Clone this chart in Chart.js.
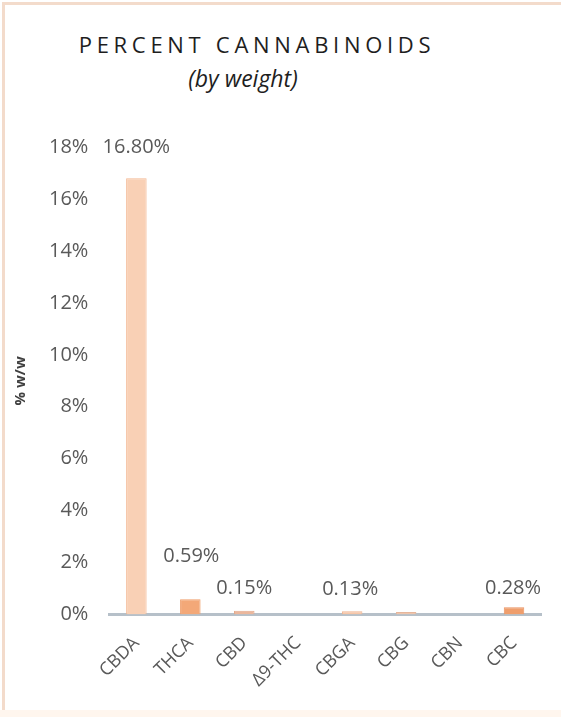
<!DOCTYPE html>
<html>
<head>
<meta charset="utf-8">
<script src="https://cdn.jsdelivr.net/npm/chart.js@4/dist/chart.umd.min.js"></script>
<style>
  html, body { margin: 0; padding: 0; background: #ffffff; }
  #wrap { position: relative; width: 561px; height: 717px; overflow: hidden; background: #fff; }
  #frame { position: absolute; left: 2px; top: 2px; right: 0; bottom: 7px;
           border-top: 3px solid #f3dbcb; border-left: 3px solid #f3dbcb; }
  #bottomband { position: absolute; left: 0; right: 0; bottom: 0; height: 7px; background: #fff6ee; }
  #title { position: absolute; left: 0; width: 514px; top: 29px; text-align: center;
           font-family: "Open Sans", sans-serif; font-size: 22px; letter-spacing: 4.7px; color: #1e1e1e; }
  #subtitle { position: absolute; left: 0; width: 486px; top: 62px; text-align: center;
           font-family: "Open Sans", sans-serif; font-style: italic; font-size: 23px; color: #1e1e1e; }
  canvas { position: absolute; left: 0; top: 0; }
</style>
</head>
<body>
<div id="wrap">
  <div id="frame"></div>
  <div id="bottomband"></div>
  <div id="title">PERCENT CANNABINOIDS</div>
  <div id="subtitle">(by weight)</div>
  <canvas id="c" width="561" height="717"></canvas>
</div>
<script>
// ---- data ----
const categories = ["CBDA", "THCA", "CBD", "\u03949-THC", "CBGA", "CBG", "CBN", "CBC"];
const values = [16.8, 0.59, 0.15, 0, 0.13, 0.1, 0, 0.28];
const valueLabels = ["16.80%", "0.59%", "0.15%", null, "0.13%", null, null, "0.28%"];
const yTicksMax = 18;
const yTicksStep = 2;
const yAxisTitle = "% w/w";

// ---- style ----
const barColors = ["#f9d0b5", "#f3a878", "#ebb79c", "#f6c4a4", "#f6c6a8", "#eec5ad", "#f6c4a4", "#ef9e6c"];
const barBorders = ["#f4b893", "#ef9e6b", "#e3a88a", "#f0b28e", "#f0b490", "#e6b69b", "#f0b28e", "#ea9260"];
const labelOffsetY = [31, 43, 22, 0, 22, 0, 0, 19];
const labelOffsetX = [0, 1, 0, 0, -2, 0, 0, -1];

const dataLabels = {
  id: 'dataLabels',
  afterDatasetsDraw(chart) {
    const ctx = chart.ctx;
    const meta = chart.getDatasetMeta(0);
    ctx.save();
    ctx.font = '20px "Open Sans", sans-serif';
    ctx.fillStyle = '#595959';
    ctx.textAlign = 'center';
    ctx.textBaseline = 'middle';
    meta.data.forEach((bar, i) => {
      const t = valueLabels[i];
      if (!t) return;
      ctx.fillText(t, bar.x + labelOffsetX[i], bar.y - labelOffsetY[i]);
    });
    ctx.restore();
  }
};

new Chart(document.getElementById('c'), {
  type: 'bar',
  data: {
    labels: categories,
    datasets: [{
      data: values,
      backgroundColor: barColors,
      borderColor: barBorders,
      borderWidth: 1,
      barPercentage: 0.38,
      categoryPercentage: 1.0
    }]
  },
  options: {
    responsive: false,
    animation: false,
    layout: { padding: { left: 12, right: 20, top: 147, bottom: 8 } },
    plugins: { legend: { display: false }, tooltip: { enabled: false }, title: { display: false } },
    scales: {
      x: {
        grid: { display: false, drawTicks: false },
        border: { display: true, color: '#b6c0c9', width: 3 },
        ticks: {
          color: '#595959',
          font: { family: '"Open Sans", sans-serif', size: 18 },
          minRotation: 45, maxRotation: 45,
          padding: 18
        }
      },
      y: {
        min: 0, max: yTicksMax,
        grid: { display: false },
        border: { display: false },
        ticks: {
          stepSize: yTicksStep,
          color: '#595959',
          font: { family: '"Open Sans", sans-serif', size: 20 },
          padding: 13,
          callback: v => v + '%'
        },
        title: {
          display: true,
          text: yAxisTitle,
          color: '#404040',
          font: { family: '"Open Sans", sans-serif', size: 15, weight: 'bold' },
          padding: { top: 0, bottom: 6 }
        }
      }
    }
  },
  plugins: [dataLabels]
});
</script>
</body>
</html>
